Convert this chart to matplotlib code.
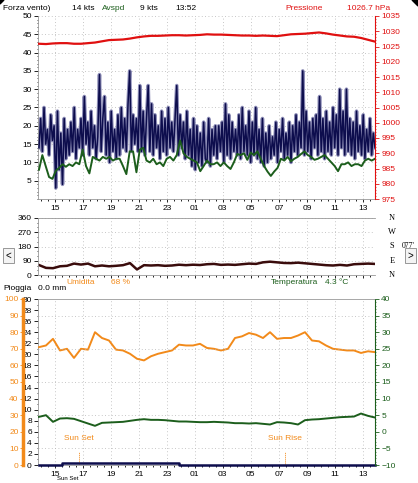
import numpy as np
import matplotlib
matplotlib.use('Agg')
import matplotlib.pyplot as plt
from matplotlib.patches import Polygon, Rectangle

plt.rcParams['font.family'] = ['Liberation Sans', 'DejaVu Sans']
plt.rcParams['font.size'] = 6

# ---- dati (ore dal giorno precedente, 13:52 -> 13:52) ----
t_start = 13.87
t_end = 37.87

# raffica (kts), un valore ogni 0.12 h
raffica = [
    14, 22, 13, 25, 15, 19, 12, 23, 16, 20, 3, 24, 8, 18, 4, 22, 11, 19, 12, 21,
    13, 25, 11, 19, 14, 22, 12, 28, 15, 21, 12, 24, 14, 20, 11, 17, 34, 13, 22, 28,
    12, 21, 10, 24, 13, 19, 11, 23, 12, 25, 14, 22, 13, 26, 35, 13, 23, 15, 22, 13,
    31, 13, 24, 12, 22, 31, 13, 26, 12, 23, 14, 20, 11, 24, 13, 22, 12, 25, 14, 21,
    13, 22, 31, 12, 23, 14, 21, 11, 24, 12, 19, 9, 22, 8, 20, 10, 18, 9, 21, 11,
    10, 22, 9, 19, 12, 20, 11, 20, 13, 21, 10, 26, 12, 23, 11, 21, 13, 19, 12, 23,
    11, 25, 13, 20, 12, 24, 10, 21, 12, 25, 11, 19, 10, 22, 9, 18, 10, 20, 11, 17,
    12, 21, 10, 19, 13, 22, 11, 18, 12, 21, 10, 20, 13, 23, 12, 21, 14, 35, 12, 24,
    13, 21, 11, 22, 14, 23, 12, 28, 13, 22, 11, 24, 13, 21, 12, 25, 14, 23, 12, 30,
    14, 24, 12, 30, 13, 22, 12, 21, 11, 24, 13, 20, 12, 23, 11, 19, 13, 22, 12, 18,
    14,
]

# velocita media (kts), un valore ogni 0.24 h
media = [
    8, 12, 9, 6, 5.5, 7.7, 8.5, 9.5, 8.8, 9.5,
    9, 10, 9.5, 13.5, 9, 7, 11.5, 11, 10.5, 11.5,
    11, 11.5, 10.5, 11, 11, 9, 6.8, 13, 13, 7.3,
    13.5, 14, 10.5, 10, 11, 9.5, 10, 9, 11, 11.5,
    10.5, 12, 16, 12.5, 11.5, 11, 10.5, 10, 7.6, 9,
    10.5, 9.5, 9.5, 10, 9, 10, 9, 8.2, 10, 12.3,
    12, 12.5, 10.7, 12.7, 12, 13, 11, 9, 7.5, 6.3,
    7.5, 8.5, 11, 10.5, 11.5, 10.3, 11, 11.5, 12.3, 13,
    12, 11.5, 10.7, 11, 11.5, 12, 11, 10, 9, 7.6,
    9.5, 9.5, 10, 9, 9.5, 9.5, 9, 10.5, 11, 10.5,
    11,
]

# pressione (hPa), ogni 0.5 h
pressione = [
    1025.9, 1025.8, 1026.0, 1026.1, 1026.1, 1025.9, 1025.9, 1026.1, 1026.3, 1026.7,
    1027.1, 1027.2, 1027.3, 1027.6, 1028.0, 1028.3, 1028.5, 1028.5, 1028.6, 1028.7,
    1028.7, 1028.6, 1028.7, 1028.8, 1029.0, 1028.9, 1028.9, 1028.8, 1028.7, 1028.6,
    1028.6, 1028.5, 1028.6, 1028.5, 1028.4, 1028.7, 1029.0, 1029.1, 1029.2, 1029.4,
    1029.6, 1029.3, 1028.9, 1028.6, 1028.3, 1028.2, 1027.8, 1027.2, 1026.6,
]

# direzione (gradi), ogni 0.5 h
direzione = [
    63, 45, 43, 55, 58, 72, 66, 72, 55, 60,
    55, 58, 62, 75, 35, 62, 60, 62, 58, 60,
    65, 62, 65, 63, 68, 70, 64, 66, 64, 68,
    72, 70, 80, 84, 80, 76, 75, 78, 74, 70,
    66, 62, 60, 64, 60, 68, 70, 72, 70,
]

# umidita (%), ogni 0.5 h
umidita = [
    71, 72, 76, 69, 70, 64.5, 70, 69.5, 80, 76.5,
    75, 69.5, 69, 67, 64, 63, 65.5, 67, 68, 69,
    72.5, 72, 72, 73, 70.5, 70, 69, 70, 76.5, 77.5,
    79.5, 78.5, 76.5, 80, 76, 76.5, 76.5, 78, 80, 75,
    74.5, 72, 70, 69.5, 69, 69, 67.5, 68.5, 68,
]

# temperatura (C), ogni 0.5 h
temperatura = [
    4.5, 5.0, 3.0, 4.0, 4.1, 3.9, 3.2, 2.5, 1.8, 2.7,
    2.8, 2.9, 3.0, 3.3, 3.6, 3.8, 3.6, 3.6, 3.5, 3.3,
    3.1, 3.1, 3.0, 2.9, 2.9, 3.0, 2.9, 2.8, 2.6, 2.6,
    2.5, 2.6, 2.4, 2.2, 2.9, 2.8, 2.6, 2.2, 3.5, 3.7,
    3.8, 4.0, 4.2, 4.4, 4.5, 4.6, 5.5, 4.8, 4.3,
]

# pioggia (mm)
pioggia_t = [13.87, 15.5, 15.5, 23.9, 23.9, 37.87]
pioggia = [0, 0, 0.3, 0.3, 0, 0]

tramonto = 16.75
alba = 31.45

t_raff = np.linspace(t_start, t_end, len(raffica))
t_media = np.linspace(t_start, t_end, len(media))
t_half = np.linspace(t_start, t_end, len(pressione))

ore = list(range(15, 38, 2))
etichette = ['%02d' % (h % 24) for h in ore]

NAVY = '#0d0d4d'
LAV = '#8f8fb8'
VERDE = '#1c5e1c'
ROSSO = '#e01010'
ARANCIO = '#f28a1a'
GRIGIO = '#b4b4b4'

W, H = 418, 483


def box(l, t, r, b):
    return [l / W, 1 - b / H, (r - l) / W, (b - t) / H]


def asse_tempo(ax, labels=True):
    ax.set_xlim(13.8, 37.87)
    ax.set_xticks(ore)
    ax.set_xticks(np.arange(14, 38, 0.5), minor=True)
    ax.set_xticklabels(etichette if labels else [])
    ax.tick_params(axis='x', which='major', length=2.5, width=0.6, pad=2, labelsize=6)
    ax.tick_params(axis='x', which='minor', length=1.5, width=0.6)
    ax.grid(True, axis='x', ls=(0, (1, 3)), color=GRIGIO, lw=0.6)
    for s in ax.spines.values():
        s.set_color('#999999')
        s.set_linewidth(0.6)


fig = plt.figure(figsize=(W / 100, H / 100), dpi=100)
fig.patch.set_facecolor('white')

# ---------- pannello vento / pressione ----------
ax1 = fig.add_axes(box(38, 16, 375, 199))
asse_tempo(ax1)
ax1.plot(t_raff, raffica, color=LAV, lw=2.6, zorder=2)
ax1.plot(t_raff, raffica, color=NAVY, lw=1.1, zorder=3)
ax1.plot(t_media, media, color=VERDE, lw=1.4, zorder=4)
ax1.set_ylim(0, 50)
ax1.set_yticks(range(5, 51, 5))
ax1.set_yticks(range(0, 51, 1), minor=True)
ax1.tick_params(axis='y', which='major', length=3, width=0.6, pad=1.5, labelsize=6)
ax1.tick_params(axis='y', which='minor', length=1, width=0.5)
ax1.grid(True, axis='y', ls=(0, (1, 3)), color=GRIGIO, lw=0.6)
ax1.spines['top'].set_visible(False)

ax1r = ax1.twinx()
ax1r.plot(t_half, pressione, color=ROSSO, lw=1.6)
ax1r.set_ylim(975, 1035)
ax1r.set_yticks(range(975, 1036, 5))
ax1r.set_yticks(range(975, 1036, 1), minor=True)
ax1r.tick_params(axis='y', which='major', colors=ROSSO, length=3, width=0.6, pad=1.5, labelsize=6)
ax1r.tick_params(axis='y', which='minor', colors=ROSSO, length=1, width=0.5)
ax1r.spines['right'].set_color(ROSSO)
ax1r.spines['right'].set_linestyle((0, (1, 1)))
for k in ('top', 'left', 'bottom'):
    ax1r.spines[k].set_visible(False)

fig.text(3 / W, 1 - 8 / H, 'Forza vento)', va='center', fontsize=6)
fig.text(72 / W, 1 - 8 / H, '14 kts', va='center', fontsize=6)
fig.text(102 / W, 1 - 8 / H, 'Avspd', va='center', fontsize=6, color=VERDE)
fig.text(140 / W, 1 - 8 / H, '9 kts', va='center', fontsize=6)
fig.text(175 / W, 1 - 8 / H, '13:52', va='center', fontsize=6)
fig.text(285 / W, 1 - 8 / H, 'Pressione', va='center', fontsize=6, color=ROSSO)
fig.text(347 / W, 1 - 8 / H, '1026.7 hPa', va='center', fontsize=6, color=ROSSO)

# ---------- pannello direzione ----------
ax2 = fig.add_axes(box(38, 218, 375, 275))
asse_tempo(ax2, labels=False)
ax2.plot(t_half, direzione, color='#3a0c0c', lw=1.8)
ax2.set_ylim(0, 360)
ax2.set_yticks(range(0, 361, 90))
ax2.set_yticks(range(0, 361, 30), minor=True)
ax2.tick_params(axis='y', which='major', length=3, width=0.6, pad=1.5, labelsize=6)
ax2.tick_params(axis='y', which='minor', length=1, width=0.5)
ax2.grid(True, axis='y', ls=(0, (1, 3)), color=GRIGIO, lw=0.6)
ax2.spines['right'].set_visible(False)
for lab, v in zip(['N', 'W', 'S', 'E', 'N'], [360, 270, 180, 90, 0]):
    ax2.text(1.05, v / 360, lab, transform=ax2.transAxes, va='center', ha='center',
             family='Liberation Serif', fontsize=6)
fig.text(402 / W, 1 - 246 / H, "077'", va='center', fontsize=5.5,
         family='Liberation Serif')

# bottoni
for l, s in ((3, '<'), (405, '>')):
    fig.patches.append(Rectangle((l / W, 1 - 263 / H), 11 / W, 15 / H,
                                 transform=fig.transFigure, facecolor='#f4f4f4',
                                 edgecolor='#888888', lw=0.6))
    fig.text((l + 5.5) / W, 1 - 255.5 / H, s, ha='center', va='center', fontsize=7)

# ---------- pannello pioggia / umidita / temperatura ----------
ax3 = fig.add_axes(box(38, 299, 375, 465))
asse_tempo(ax3)
ax3.plot(pioggia_t, pioggia, color=NAVY, lw=1.8, zorder=5, clip_on=False)
ax3.set_ylim(0, 30)
ax3.set_yticks(range(0, 31, 2))
ax3.set_yticks(np.arange(0, 30.5, 1), minor=True)
ax3.tick_params(axis='y', which='major', length=3, width=0.6, pad=1.5, labelsize=6)
ax3.tick_params(axis='y', which='minor', length=1, width=0.5)
ax3.spines['right'].set_visible(False)

ax3h = ax3.twinx()
ax3h.plot(t_half, umidita, color=ARANCIO, lw=1.4)
ax3h.set_ylim(0, 100)
ax3h.yaxis.tick_left()
ax3h.spines['left'].set_visible(True)
ax3h.spines['left'].set_position(('axes', -0.045))
ax3h.spines['left'].set_color(ARANCIO)
ax3h.spines['left'].set_linewidth(2.5)
ax3h.set_yticks(range(0, 101, 10))
ax3h.tick_params(axis='y', colors=ARANCIO, length=2, width=0.6, pad=1, labelsize=6)
for k in ('top', 'right', 'bottom'):
    ax3h.spines[k].set_visible(False)

ax3t = ax3.twinx()
ax3t.plot(t_half, temperatura, color=VERDE, lw=1.4)
ax3t.set_ylim(-10, 40)
ax3t.set_yticks(range(-10, 41, 5))
ax3t.set_yticks(range(-10, 41, 1), minor=True)
for g in (-5, 5, 15, 25, 35):
    ax3t.axhline(g, ls=(0, (1, 3)), color=GRIGIO, lw=0.6, zorder=0)
ax3t.tick_params(axis='y', which='major', colors=VERDE, length=3, width=0.6, pad=1.5, labelsize=6)
ax3t.tick_params(axis='y', which='minor', colors=VERDE, length=1, width=0.5)
ax3t.spines['right'].set_color(VERDE)
ax3t.spines['right'].set_linestyle((0, (1, 1)))
for k in ('top', 'left', 'bottom'):
    ax3t.spines[k].set_visible(False)

for tt, lab in ((tramonto, 'Sun Set'), (alba, 'Sun Rise')):
    ax3.axvline(tt, ymin=0, ymax=0.08, color=ARANCIO, lw=0.7, ls=(0, (1, 1)))
    ax3.text(tt, 4.7, lab, color=ARANCIO, ha='center', va='center', fontsize=6)
ax3.text(tramonto - 0.8, -2.35, 'Sun Set', ha='center', va='center', fontsize=4.3)

fig.text(3 / W, 1 - 288 / H, 'Pioggia', va='center', fontsize=6)
fig.text(38 / W, 1 - 288 / H, '0.0 mm', va='center', fontsize=6)
fig.text(66 / W, 1 - 283 / H, 'Umidita', va='center', fontsize=6, color=ARANCIO)
fig.text(111 / W, 1 - 283 / H, '68 %', va='center', fontsize=6, color=ARANCIO)
fig.text(271 / W, 1 - 283 / H, 'Temperatura', va='center', fontsize=6, color=VERDE)
fig.text(325 / W, 1 - 283 / H, '4.3 \u00b0C', va='center', fontsize=6, color=VERDE)

# angoli
fig.patches.append(Polygon([[0, 1], [4 / W, 1], [0, 1 - 4 / H]], closed=True,
                           transform=fig.transFigure, color='black'))
fig.patches.append(Polygon([[1, 1], [1 - 6 / W, 1], [1, 1 - 6 / H]], closed=True,
                           transform=fig.transFigure, color='black'))

fig.savefig('out.png', dpi=100)
